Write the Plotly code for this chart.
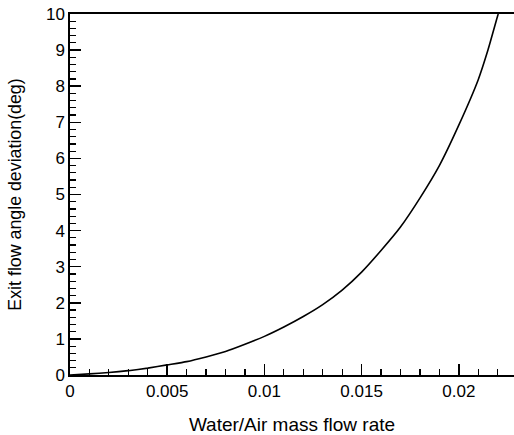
import plotly.graph_objects as go

# Data
flow_rate = [0, 0.001, 0.002, 0.003, 0.004, 0.005, 0.006, 0.007, 0.008, 0.009,
             0.010, 0.011, 0.012, 0.013, 0.014, 0.015, 0.016, 0.017, 0.018,
             0.019, 0.020, 0.021, 0.0215, 0.022, 0.02203]
deviation = [0, 0.03, 0.07, 0.12, 0.19, 0.28, 0.37, 0.50, 0.65, 0.85,
             1.07, 1.33, 1.62, 1.95, 2.35, 2.85, 3.45, 4.10, 4.90,
             5.80, 6.92, 8.18, 9.00, 9.95, 10.0]

x_range = [0, 0.02284]
y_range = [0, 10]
x_tick0, x_dtick, x_minor = 0, 0.005, 0.001
y_tick0, y_dtick, y_minor = 0, 1, 0.2

FONT = "Liberation Sans, Arial, sans-serif"

fig = go.Figure()
fig.add_trace(go.Scatter(x=flow_rate, y=deviation, mode="lines",
                         line=dict(color="black", width=1.6, shape="spline", smoothing=0.5),
                         showlegend=False, hoverinfo="skip"))

fig.update_layout(
    width=514, height=435,
    margin=dict(l=70, r=0, t=14, b=60),
    paper_bgcolor="white", plot_bgcolor="white",
    font=dict(family=FONT, size=17, color="black"),
)
fig.update_xaxes(
    range=x_range, tickmode="linear", tick0=x_tick0, dtick=x_dtick,
    ticks="inside", ticklen=11, tickwidth=1.5, tickcolor="black",
    minor=dict(ticks="inside", ticklen=6, dtick=x_minor, tickwidth=1.2,
               tickcolor="black", showgrid=False),
    showline=True, linecolor="black", linewidth=1.6, mirror=True,
    showgrid=False, zeroline=False,
    tickfont=dict(size=17, color="black"),
    title=dict(text="Water/Air mass flow rate", font=dict(size=19, color="black"), standoff=18),
)
fig.update_yaxes(
    range=y_range, tickmode="linear", tick0=y_tick0, dtick=y_dtick,
    ticks="inside", ticklen=11, tickwidth=1.5, tickcolor="black",
    minor=dict(ticks="inside", ticklen=6, dtick=y_minor, tickwidth=1.2,
               tickcolor="black", showgrid=False),
    showline=True, linecolor="black", linewidth=1.6,
    showgrid=False, zeroline=False,
    tickfont=dict(size=17, color="black"),
    title=dict(text="Exit flow angle deviation(deg)", font=dict(size=17.8, color="black"), standoff=20),
)

fig.write_html("out.html", config={"displayModeBar": False, "staticPlot": True},
               post_script="document.body.style.margin='0';document.body.style.overflow='hidden';")
